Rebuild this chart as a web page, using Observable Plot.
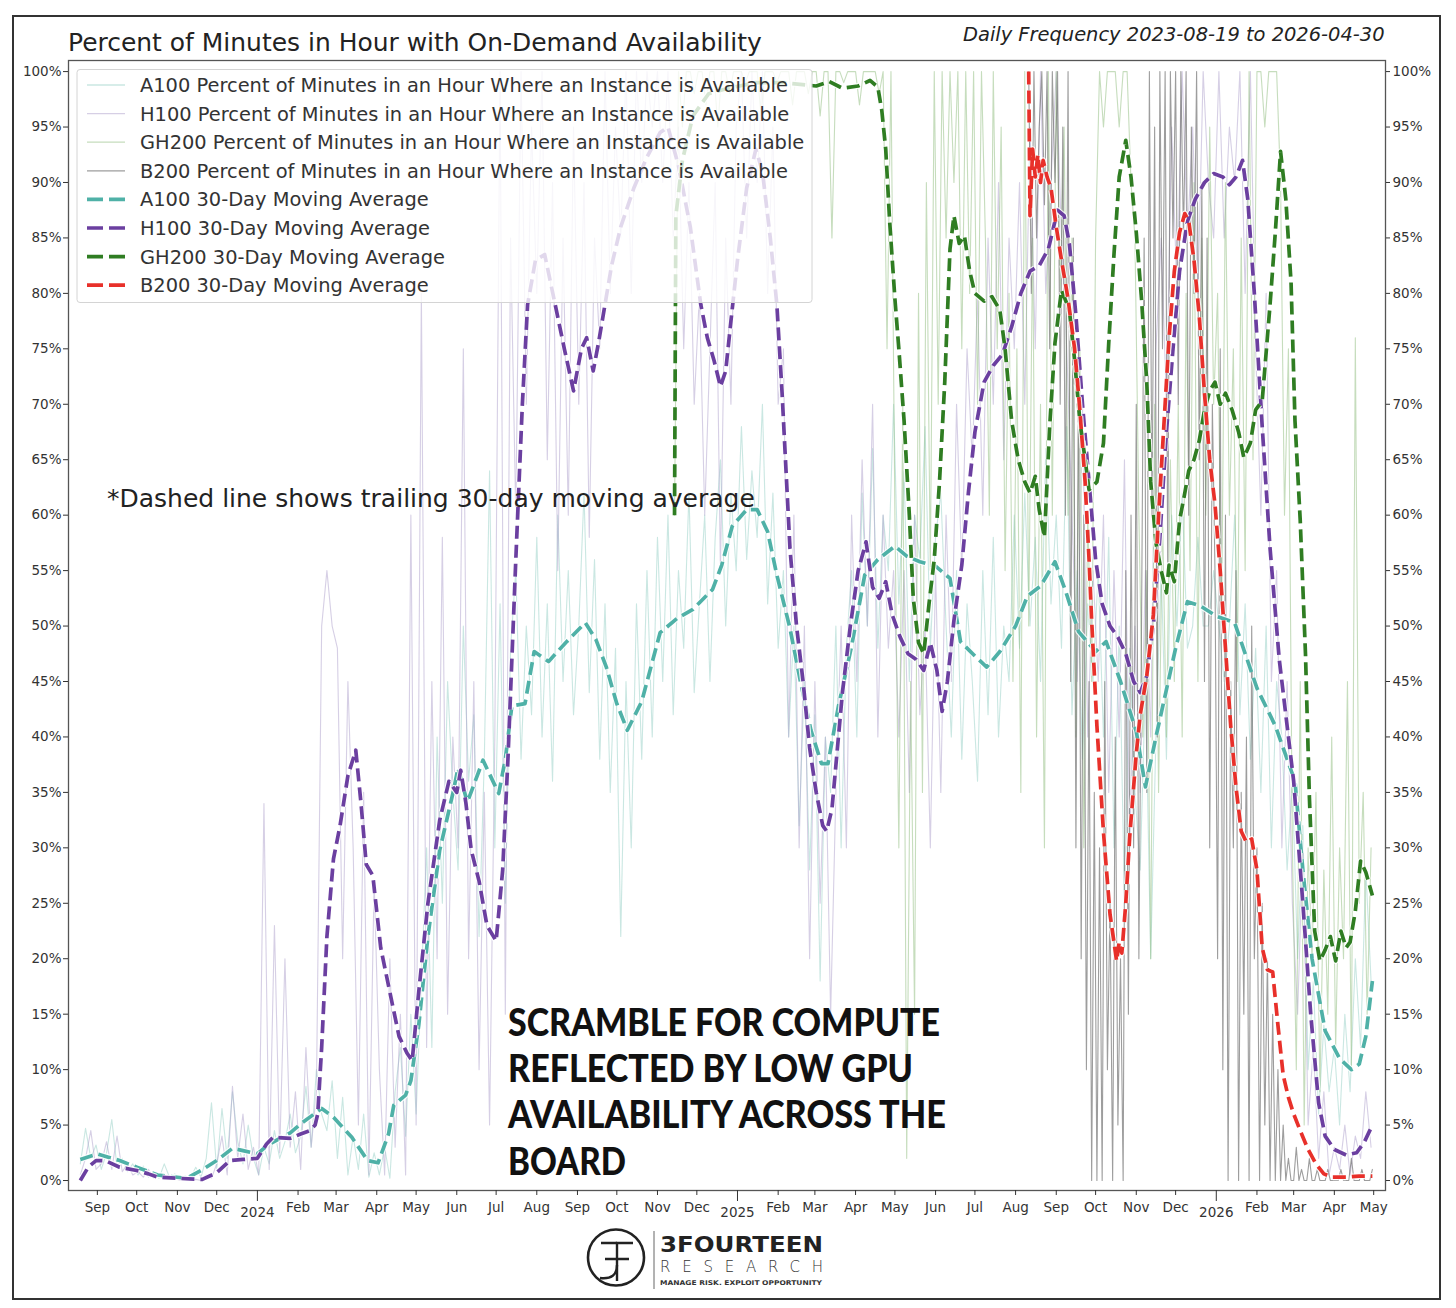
<!DOCTYPE html>
<html><head><meta charset="utf-8">
<script src="https://cdn.jsdelivr.net/npm/d3@7"></script>
<script src="https://cdn.jsdelivr.net/npm/@observablehq/plot@0.6"></script>
<style>
body{margin:0;background:#fff;}
#wrap{position:relative;width:1456px;height:1308px;font-family:"DejaVu Sans",sans-serif;overflow:hidden;}
#wrap svg{position:absolute;left:0;top:0;}
</style></head><body><div id="wrap"></div>
<script>
// ---------------- data ----------------
const titleText = "Percent of Minutes in Hour with On-Demand Availability";
const subtitleText = "Daily Frequency 2023-08-19 to 2026-04-30";
const noteText = "*Dashed line shows trailing 30-day moving average";
const calloutLines = ["SCRAMBLE FOR COMPUTE","REFLECTED BY LOW GPU","AVAILABILITY ACROSS THE","BOARD"];
const legendLabels = [
  "A100 Percent of Minutes in an Hour Where an Instance is Available",
  "H100 Percent of Minutes in an Hour Where an Instance is Available",
  "GH200 Percent of Minutes in an Hour Where an Instance is Available",
  "B200 Percent of Minutes in an Hour Where an Instance is Available",
  "A100 30-Day Moving Average",
  "H100 30-Day Moving Average",
  "GH200 30-Day Moving Average",
  "B200 30-Day Moving Average"
];
const yTicks = [0,5,10,15,20,25,30,35,40,45,50,55,60,65,70,75,80,85,90,95,100];
const monthTickDates = ["2023-09-01","2023-10-01","2023-11-01","2023-12-01","2024-02-01","2024-03-01","2024-04-01","2024-05-01","2024-06-01","2024-07-01","2024-08-01","2024-09-01","2024-10-01","2024-11-01","2024-12-01","2025-02-01","2025-03-01","2025-04-01","2025-05-01","2025-06-01","2025-07-01","2025-08-01","2025-09-01","2025-10-01","2025-11-01","2025-12-01","2026-02-01","2026-03-01","2026-04-01","2026-05-01"];
const monthTickLabels = ["Sep","Oct","Nov","Dec","Feb","Mar","Apr","May","Jun","Jul","Aug","Sep","Oct","Nov","Dec","Feb","Mar","Apr","May","Jun","Jul","Aug","Sep","Oct","Nov","Dec","Feb","Mar","Apr","May"];
const yearTickDates = ["2024-01-01","2025-01-01","2026-01-01"];
const yearTickLabels = ["2024","2025","2026"];

// raw daily series, sampled (start date, spacing in days, values in %)
const a100RawStart = "2023-08-19", a100RawStep = 4;
const a100Raw = [
 1.5,4.7,2.0,3.2,
 1.0,2.5,5.5,1.2,2.0,0.8,1.5,
 0.5,1.3,0.3,0.8,0.2,1.5,0.3,0.6,
 0.1,0.4,0.2,1.2,0.3,2.0,7.0,
 1.0,6.5,2.0,8.0,3.5,1.5,5.0,2.0,
 0.5,3.0,1.5,4.5,2.0,3.5,6.0,2.5,
 4.0,8.5,3.0,10.0,6.0,4.5,9.0,
 2.0,7.5,0.5,4.0,1.0,6.0,0.3,2.5,
 0.5,3.0,0.2,8.0,12.0,4.0,15.0,
 6.0,18.0,30.0,12.0,40.0,25.0,45.0,35.0,
 28.0,50.0,36.0,42.0,22.0,38.0,64.0,30.0,
 52.0,25.0,48.0,55.0,38.0,50.0,42.0,
 58.0,40.0,52.0,36.0,60.0,45.0,55.0,42.0,
 50.0,62.0,44.0,56.0,38.0,52.0,35.0,48.0,
 22.0,45.0,30.0,52.0,38.0,55.0,40.0,
 58.0,45.0,60.0,42.0,55.0,48.0,62.0,44.0,
 52.0,60.0,45.0,58.0,65.0,50.0,62.0,55.0,
 68.0,56.0,64.0,58.0,70.0,52.0,62.0,48.0,
 55.0,40.0,50.0,32.0,45.0,28.0,42.0,
 18.0,40.0,35.0,50.0,30.0,48.0,55.0,40.0,
 62.0,50.0,66.0,48.0,60.0,55.0,70.0,
 52.0,64.0,45.0,60.0,56.0,68.0,48.0,58.0,
 62.0,50.0,40.0,55.0,38.0,52.0,45.0,
 36.0,55.0,42.0,58.0,40.0,50.0,45.0,60.0,
 48.0,62.0,50.0,58.0,45.0,66.0,52.0,
 60.0,48.0,68.0,42.0,55.0,38.0,52.0,45.0,
 55.0,40.0,58.0,30.0,50.0,25.0,48.0,35.0,
 28.0,45.0,20.0,40.0,55.0,38.0,60.0,
 50.0,62.0,48.0,50.0,58.0,50.0,50.0,55.0,
 50.0,45.0,50.0,60.0,42.0,52.0,38.0,48.0,
 35.0,50.0,30.0,45.0,40.0,28.0,36.0,
 20.0,32.0,10.0,18.0,6.0,14.0,8.0,12.0,
 5.0,15.0,8.0,20.0,12.0,28.0,18.0
];
const h100RawStart = "2023-08-19", h100RawStep = 4;
const h100Raw = [
 0.5,2.0,4.5,1.0,
 1.5,3.5,1.0,4.0,0.8,1.5,0.5,
 0.8,0.3,1.0,0.2,0.5,0.1,0.3,0.2,
 0.0,0.2,0.0,0.1,0.0,0.5,0.2,
 1.5,4.0,0.5,8.5,2.0,6.0,1.0,3.0,
 0.5,34.0,1.0,23.0,2.5,20.0,3.0,8.0,
 1.0,12.0,3.0,8.0,50.0,55.0,50.0,
 48.0,20.0,45.0,30.0,5.0,35.0,0.5,27.0,
 10.0,0.5,20.0,3.0,15.0,0.5,60.0,
 5.0,80.0,12.0,45.0,20.0,58.0,15.0,40.0,
 30.0,75.0,20.0,45.0,10.0,35.0,5.0,40.0,
 100.0,15.0,85.0,60.0,100.0,70.0,95.0,
 80.0,100.0,65.0,90.0,55.0,85.0,60.0,95.0,
 70.0,90.0,58.0,85.0,75.0,100.0,80.0,95.0,
 85.0,100.0,80.0,100.0,90.0,100.0,95.0,
 100.0,90.0,100.0,85.0,95.0,75.0,90.0,70.0,
 80.0,60.0,75.0,90.0,55.0,85.0,70.0,95.0,
 100.0,85.0,100.0,90.0,100.0,80.0,95.0,70.0,
 75.0,40.0,60.0,30.0,50.0,20.0,45.0,
 25.0,40.0,15.0,35.0,50.0,30.0,60.0,45.0,
 65.0,50.0,70.0,40.0,60.0,48.0,55.0,
 40.0,55.0,35.0,60.0,42.0,50.0,30.0,55.0,
 35.0,60.0,45.0,70.0,55.0,75.0,65.0,
 80.0,60.0,85.0,70.0,90.0,65.0,85.0,75.0,
 90.0,70.0,95.0,75.0,100.0,80.0,90.0,
 100.0,85.0,75.0,60.0,45.0,70.0,40.0,55.0,
 45.0,60.0,35.0,55.0,40.0,65.0,30.0,50.0,
 35.0,55.0,40.0,75.0,85.0,70.0,95.0,
 80.0,100.0,85.0,95.0,80.0,100.0,90.0,85.0,
 100.0,85.0,95.0,90.0,100.0,80.0,100.0,75.0,
 60.0,80.0,45.0,55.0,30.0,45.0,25.0,
 15.0,30.0,5.0,12.0,2.0,8.0,0.5,3.0,
 1.0,5.0,0.5,4.0,2.0,8.0,3.0
];
const gh200RawStart = "2024-11-14", gh200RawStep = 3;
const gh200Raw = [
 60,100,95,100,100,98,
 100,100,97,100,100,95,100,100,98,100,
 100,100,99,100,100,100,96,100,100,100,99,
 100,100,100,97,100,100,100,98,100,
 100,96,100,100,85,100,100,99,100,100,
 100,97,100,100,100,100,98,100,75,100,
 60,30,70,2,45,15,80,35,90,55,100,
 70,100,85,100,90,100,75,100,80,100,
 70,100,85,60,100,75,95,55,80,45,
 75,35,100,50,85,40,70,30,100,60,
 100,80,95,60,85,40,75,30,60,45,
 85,100,95,100,100,100,95,100,100,90,85,
 60,40,55,20,70,35,60,40,65,45,
 70,40,80,55,90,45,85,60,95,70,
 80,50,90,60,75,45,85,55,100,65,
 100,100,95,100,100,100,90,60,75,30,
 10,45,5,30,20,35,8,28,15,40,
 12,30,20,45,10,76,25,35,15,30
];
const b200RawStart = "2025-08-11", b200RawStep = 2;
const b200Raw = [
 100,80,100,85,95,100,88,100,75,100,90,
 100,70,95,60,100,45,85,30,75,20,60,10,45,0,35,
 0,30,0,45,10,25,0,40,5,20,0,55,15,60,30,
 70,20,50,85,35,100,60,95,40,100,75,100,55,100,85,
 100,70,100,85,100,60,95,80,100,65,90,45,85,30,70,55,
 20,75,10,60,0,45,30,55,0,35,15,40,0,50,20,
 30,0,25,5,20,0,15,0,10,0,5,0,2,0,
 0,3,0,1,0,0,2,0,0,1,0,0,0,1,0,0,
 0,0,1,0,0,0,2,0,0,0,1,0,0,0,1
];

// 30-day moving averages [date, %]
const a100Ma = [["2023-08-19",1.9],["2023-09-01",2.4],["2023-09-18",1.8],["2023-10-01",1.2],["2023-10-17",0.5],["2023-11-08",0.2],["2023-11-19",0.9],["2023-12-01",1.8],["2023-12-13",2.9],["2023-12-21",2.7],["2024-01-01",2.4],["2024-01-09",3.2],["2024-01-26",4.3],["2024-02-03",5.1],["2024-02-19",6.5],["2024-02-28",5.7],["2024-03-13",3.9],["2024-03-25",1.8],["2024-04-02",1.6],["2024-04-10",4.2],["2024-04-14",6.8],["2024-04-23",7.7],["2024-04-27",9.0],["2024-05-03",14],["2024-05-10",22],["2024-05-19",29.8],["2024-05-29",34.9],["2024-06-02",37.2],["2024-06-09",34.1],["2024-06-15",36],["2024-06-21",37.9],["2024-07-03",34.9],["2024-07-08",38],["2024-07-13",42.8],["2024-07-23",43],["2024-07-30",47.7],["2024-08-10",46.8],["2024-08-23",48.5],["2024-09-07",50.3],["2024-09-15",48.8],["2024-09-23",46.3],["2024-10-01",43],["2024-10-09",40.6],["2024-10-20",43.2],["2024-11-03",49.4],["2024-11-16",50.7],["2024-11-28",51.5],["2024-12-13",53.3],["2024-12-20",55.5],["2024-12-28",59],["2025-01-08",60.5],["2025-01-16",60.5],["2025-01-24",58.5],["2025-01-31",54.6],["2025-02-10",49.8],["2025-02-18",45],["2025-02-26",40.6],["2025-03-06",37.6],["2025-03-11",37.6],["2025-03-19",42.8],["2025-03-29",48.2],["2025-04-08",54.6],["2025-04-18",56],["2025-05-01",57.2],["2025-05-10",56.3],["2025-05-20",55.8],["2025-06-01",55.4],["2025-06-12",54.3],["2025-06-20",48.6],["2025-07-01",47.3],["2025-07-10",46.3],["2025-07-20",47.7],["2025-08-01",50],["2025-08-10",52.7],["2025-08-20",53.6],["2025-08-31",55.8],["2025-09-08",53.2],["2025-09-18",49.5],["2025-10-01",47.7],["2025-10-09",48.6],["2025-10-20",45],["2025-11-01",40.5],["2025-11-08",35.5],["2025-11-16",40],["2025-12-01",48],["2025-12-10",52.2],["2025-12-20",51.8],["2026-01-01",50.9],["2026-01-15",50.3],["2026-02-01",44.4],["2026-02-15",41],["2026-03-02",36],["2026-03-08",28],["2026-03-15",20],["2026-03-25",13.5],["2026-04-05",11],["2026-04-14",10],["2026-04-20",10.5],["2026-04-25",13],["2026-04-30",18]];
const h100Ma = [["2023-08-19",0],["2023-08-25",1.2],["2023-08-31",1.8],["2023-09-07",1.8],["2023-09-18",1.2],["2023-10-01",0.9],["2023-10-10",0.6],["2023-10-17",0.3],["2023-11-01",0.2],["2023-11-20",0.1],["2023-12-01",0.7],["2023-12-11",1.8],["2023-12-21",1.9],["2024-01-01",2.0],["2024-01-08",3.3],["2024-01-13",3.9],["2024-01-26",3.8],["2024-02-03",4.2],["2024-02-10",4.5],["2024-02-14",5.0],["2024-02-16",6.0],["2024-02-19",12],["2024-02-23",22],["2024-02-28",29],["2024-03-04",32],["2024-03-10",36.5],["2024-03-16",38.8],["2024-03-20",34],["2024-03-24",28.5],["2024-03-29",27.5],["2024-04-04",21],["2024-04-12",16.4],["2024-04-18",13],["2024-04-24",11.5],["2024-04-28",10.8],["2024-05-03",17],["2024-05-10",25],["2024-05-19",32.5],["2024-05-26",36],["2024-06-01",35],["2024-06-04",37],["2024-06-08",34],["2024-06-12",29.8],["2024-06-18",27],["2024-06-24",23],["2024-07-01",21.6],["2024-07-06",28],["2024-07-10",38],["2024-07-16",56],["2024-07-21",70],["2024-07-25",79],["2024-07-31",83],["2024-08-07",83.5],["2024-08-15",79],["2024-08-22",75],["2024-08-29",71.2],["2024-09-04",75],["2024-09-08",76],["2024-09-13",73],["2024-09-17",75.5],["2024-09-22",79],["2024-09-27",82.5],["2024-10-04",86],["2024-10-14",89.5],["2024-10-24",92.3],["2024-11-03",94.5],["2024-11-09",95],["2024-11-17",91.5],["2024-11-26",86],["2024-12-04",79],["2024-12-09",76],["2024-12-14",74],["2024-12-19",71.6],["2024-12-23",73],["2024-12-27",77.5],["2025-01-01",83],["2025-01-08",89.5],["2025-01-15",93],["2025-01-20",91],["2025-01-26",85],["2025-01-31",79],["2025-02-04",71],["2025-02-10",57],["2025-02-15",50],["2025-02-20",45],["2025-02-25",39],["2025-03-02",35],["2025-03-07",32],["2025-03-10",31.5],["2025-03-14",33.5],["2025-03-22",44],["2025-03-28",50],["2025-04-03",55],["2025-04-09",57.6],["2025-04-14",53.5],["2025-04-19",52.5],["2025-04-24",54],["2025-04-29",51],["2025-05-05",49],["2025-05-11",47.5],["2025-05-17",47],["2025-05-23",46],["2025-05-28",48.5],["2025-06-02",46],["2025-06-06",42.3],["2025-06-10",45],["2025-06-15",50.5],["2025-06-21",55.5],["2025-06-26",62],["2025-07-01",67.5],["2025-07-08",72],["2025-07-15",73.5],["2025-07-22",74.5],["2025-07-29",77],["2025-08-05",80],["2025-08-12",82],["2025-08-19",82.5],["2025-08-26",84],["2025-09-02",87.5],["2025-09-07",87],["2025-09-11",84.5],["2025-09-16",78],["2025-09-21",70],["2025-09-26",63],["2025-10-01",56],["2025-10-06",52],["2025-10-12",50],["2025-10-18",49],["2025-10-24",47.5],["2025-10-30",45],["2025-11-04",44],["2025-11-09",45.5],["2025-11-14",50],["2025-11-19",58],["2025-11-24",67.5],["2025-11-29",75],["2025-12-04",82],["2025-12-10",86.5],["2025-12-16",88.5],["2025-12-23",90],["2025-12-30",90.8],["2026-01-06",90.5],["2026-01-11",89.8],["2026-01-16",90.5],["2026-01-21",92],["2026-01-25",88.5],["2026-01-30",80],["2026-02-05",68],["2026-02-11",57],["2026-02-18",47],["2026-02-24",41],["2026-03-01",36],["2026-03-08",25],["2026-03-14",15],["2026-03-20",7],["2026-03-25",4],["2026-04-01",2.8],["2026-04-10",2.3],["2026-04-18",2.5],["2026-04-24",3.5],["2026-04-30",5]];
const gh200Ma = [["2024-11-14",60],["2024-11-15",87],["2024-11-20",92],["2024-11-28",96],["2024-12-10",98],["2024-12-25",98.5],["2025-01-15",99],["2025-02-05",99],["2025-03-02",98.7],["2025-03-12",99.1],["2025-03-22",98.5],["2025-04-03",98.7],["2025-04-12",99.2],["2025-04-18",98.6],["2025-04-21",96.5],["2025-04-24",93],["2025-04-27",86.5],["2025-05-01",79.5],["2025-05-04",75],["2025-05-08",68.5],["2025-05-12",60],["2025-05-15",52.5],["2025-05-19",48.5],["2025-05-23",47.5],["2025-05-27",52],["2025-05-31",56],["2025-06-04",63],["2025-06-08",72],["2025-06-12",84],["2025-06-15",87],["2025-06-19",84.5],["2025-06-23",85.2],["2025-06-27",82],["2025-07-01",80],["2025-07-08",79.3],["2025-07-14",79.7],["2025-07-20",78.5],["2025-07-24",75],["2025-07-29",68.5],["2025-08-03",65],["2025-08-08",63],["2025-08-12",62],["2025-08-16",63.5],["2025-08-19",60.5],["2025-08-23",58],["2025-08-27",68],["2025-08-31",75.5],["2025-09-05",80.3],["2025-09-11",78.5],["2025-09-15",74],["2025-09-19",68.5],["2025-09-23",65],["2025-09-26",62.3],["2025-10-02",63],["2025-10-07",66.5],["2025-10-11",75.5],["2025-10-15",83.5],["2025-10-19",90.5],["2025-10-24",93.8],["2025-10-28",90.5],["2025-11-01",85.5],["2025-11-05",79.5],["2025-11-09",72],["2025-11-12",63],["2025-11-16",57.5],["2025-11-20",55],["2025-11-24",53],["2025-11-26",55.5],["2025-11-30",54],["2025-12-04",59.5],["2025-12-08",62],["2025-12-11",64],["2025-12-15",65],["2025-12-19",66.7],["2025-12-23",69.5],["2025-12-27",71.2],["2025-12-31",72],["2026-01-04",70],["2026-01-08",71],["2026-01-13",69.5],["2026-01-18",67.5],["2026-01-22",65.2],["2026-01-27",66.5],["2026-01-31",69.5],["2026-02-05",70.3],["2026-02-11",79],["2026-02-15",85.5],["2026-02-19",92.8],["2026-02-23",88.5],["2026-02-27",81],["2026-03-02",68.5],["2026-03-06",59.5],["2026-03-10",47.5],["2026-03-13",34.5],["2026-03-17",22.5],["2026-03-21",19.8],["2026-03-25",20.8],["2026-03-29",22],["2026-04-02",19.8],["2026-04-06",22.5],["2026-04-10",21],["2026-04-13",21.5],["2026-04-17",24.3],["2026-04-21",28.8],["2026-04-25",27.8],["2026-04-30",25.7]];
const b200Ma = [["2025-08-11",100],["2025-08-12",87],["2025-08-14",93],["2025-08-16",90.5],["2025-08-18",92.5],["2025-08-20",90],["2025-08-22",92],["2025-08-25",90.5],["2025-08-28",89.5],["2025-09-01",86],["2025-09-05",83],["2025-09-10",79.5],["2025-09-15",75],["2025-09-19",69.5],["2025-09-23",63],["2025-09-26",56],["2025-09-28",50.5],["2025-10-02",41],["2025-10-07",31.4],["2025-10-12",24],["2025-10-15",21.5],["2025-10-17",19.8],["2025-10-19",21.5],["2025-10-21",20.5],["2025-10-24",25],["2025-10-27",31],["2025-11-01",38.5],["2025-11-04",42],["2025-11-09",45.5],["2025-11-14",51],["2025-11-18",60],["2025-11-22",68],["2025-11-26",76],["2025-11-30",82],["2025-12-04",85.5],["2025-12-08",87.2],["2025-12-11",86.5],["2025-12-15",83],["2025-12-19",78],["2025-12-23",71],["2025-12-27",65],["2025-12-31",61],["2026-01-04",55],["2026-01-08",48],["2026-01-12",41],["2026-01-16",35.5],["2026-01-20",31.5],["2026-01-24",30.5],["2026-01-28",30.8],["2026-02-01",28],["2026-02-05",21],["2026-02-09",19],["2026-02-13",18.8],["2026-02-17",14],["2026-02-21",9.5],["2026-02-25",7.5],["2026-03-01",6],["2026-03-06",4.5],["2026-03-12",2.8],["2026-03-18",1.5],["2026-03-24",0.6],["2026-03-30",0.3],["2026-04-10",0.3],["2026-04-20",0.4],["2026-04-30",0.4]];

// ---------------- styles ----------------
const rawColors = ["#9fd3cb","#ad9fcc","#8dbb7b","#6e6e6e"];
const rawOpacity = [0.55,0.5,0.5,0.68];
const maColors = ["#4fb1a7","#6b3fa0","#2f7d22","#e8302a"];
const dash = "13,6";

// ---------------- build ----------------
const DAY = 864e5;
const sampled = (start, step, vals) => { const t0 = Date.parse(start); return vals.map((v,i)=>({date:new Date(t0 + i*step*DAY), v})); };
const dated = arr => arr.map(([d,v]) => ({date:new Date(d), v}));
const raws = [sampled(a100RawStart,a100RawStep,a100Raw), sampled(h100RawStart,h100RawStep,h100Raw), sampled(gh200RawStart,gh200RawStep,gh200Raw), sampled(b200RawStart,b200RawStep,b200Raw)];
const mas = [dated(a100Ma), dated(h100Ma), dated(gh200Ma), dated(b200Ma)];

const monthMap = new Map(monthTickDates.map((d,i)=>[+new Date(d), monthTickLabels[i]]));
const yearMap = new Map(yearTickDates.map((d,i)=>[+new Date(d), yearTickLabels[i]]));

const marks = [];
raws.forEach((r,i)=> marks.push(Plot.line(r,{x:"date",y:"v",stroke:rawColors[i],strokeOpacity:rawOpacity[i],strokeWidth:1.1})));
mas.forEach((m,i)=>{
  marks.push(Plot.line(m,{x:"date",y:"v",stroke:"white",strokeOpacity:0.85,strokeWidth:6,strokeDasharray:dash,strokeLinecap:"butt"}));
  marks.push(Plot.line(m,{x:"date",y:"v",stroke:maColors[i],strokeWidth:3.7,strokeDasharray:dash,strokeLinecap:"butt"}));
});
marks.push(Plot.frame({stroke:"#555",strokeWidth:1.3}));
marks.push(Plot.axisY({anchor:"left",ticks:yTicks,tickFormat:d=>d+"%",tickSize:5,tickPadding:2,label:null}));
marks.push(Plot.axisY({anchor:"right",ticks:yTicks,tickFormat:d=>d+"%",tickSize:4,tickPadding:3,label:null}));
marks.push(Plot.axisX({ticks:monthTickDates.map(d=>new Date(d)),tickFormat:d=>monthMap.get(+d),tickSize:5,tickPadding:7,label:null}));
marks.push(Plot.axisX({ticks:yearTickDates.map(d=>new Date(d)),tickFormat:d=>yearMap.get(+d),tickSize:11,tickPadding:6,label:null}));

const chart = Plot.plot({
  width:1456, height:1308,
  marginLeft:68, marginRight:71, marginTop:60, marginBottom:118,
  x:{type:"utc", domain:[new Date("2023-08-10"), new Date("2026-05-10")]},
  y:{domain:[-0.9,101]},
  style:{background:"transparent", fontFamily:"DejaVu Sans", fontSize:"13.5px", color:"#333"},
  marks
});
const wrap = document.getElementById("wrap");
wrap.appendChild(chart);

// ---------------- overlay (titles, legend, notes, logo) ----------------
const ov = d3.select(wrap).append("svg").attr("width",1456).attr("height",1308).style("pointer-events","none");
ov.append("rect").attr("x",13).attr("y",16).attr("width",1427).attr("height",1283).attr("fill","none").attr("stroke","#333").attr("stroke-width",2);

function fitText(t, target){ const w = t.node().getComputedTextLength(); const fs = parseFloat(t.attr("font-size")); if (w>0) t.attr("font-size", fs*target/w); return t; }
function txt(s,x,y,fs,opt={}){ const t = ov.append("text").attr("x",x).attr("y",y).attr("font-size",fs).attr("font-family",opt.family||"DejaVu Sans").attr("fill",opt.fill||"#222").text(s); if(opt.style) t.attr("font-style",opt.style); if(opt.weight) t.attr("font-weight",opt.weight); if(opt.anchor) t.attr("text-anchor",opt.anchor); return t; }

fitText(txt(titleText,68,51,23),694);
fitText(txt(subtitleText,963,41,19,{style:"italic"}),422);

// legend
const lgX=77, lgY=69.5, lgW=735, lgH=233;
ov.append("rect").attr("x",lgX).attr("y",lgY).attr("width",lgW).attr("height",lgH).attr("rx",3).attr("fill","white").attr("fill-opacity",0.8).attr("stroke","#d4d4d4").attr("stroke-width",1);
const probe = txt(legendLabels[2],140,-100,19); fitText(probe,665); const lgFont = parseFloat(probe.attr("font-size")); probe.remove();
legendLabels.forEach((lab,i)=>{
  const cy = 85 + i*28.6;
  if (i<4) {
    ov.append("line").attr("x1",87).attr("x2",125).attr("y1",cy).attr("y2",cy).attr("stroke",rawColors[i]).attr("stroke-opacity",rawOpacity[i]).attr("stroke-width",1.3);
  } else {
    ov.append("line").attr("x1",87).attr("x2",125).attr("y1",cy).attr("y2",cy).attr("stroke",maColors[i-4]).attr("stroke-width",3.7).attr("stroke-dasharray","16,6");
  }
  txt(lab,140,cy+7,lgFont,{fill:"#333"});
});

// notes
fitText(txt(noteText,107,507,24,{fill:"#222"}),648);
const calloutBase=[1036,1082,1128,1175], calloutW=[432,405,438,118];
calloutLines.forEach((s,i)=>{
  txt(s,508,calloutBase[i],38,{family:"Lato",weight:900,fill:"#111"}).attr("textLength",calloutW[i]).attr("lengthAdjust","spacingAndGlyphs");
});

// logo
const lg = ov.append("g").attr("fill","none").attr("stroke","#222");
lg.append("circle").attr("cx",616).attr("cy",1257.5).attr("r",28).attr("stroke-width",2.6);
lg.append("path").attr("d","M617,1281 V1243 H633 M617,1259 H629").attr("stroke-width",2.4);
lg.append("path").attr("d","M601,1243 H617 M605,1259 H617 M617,1265 Q617,1280 600,1278").attr("stroke-width",2.4);
ov.append("line").attr("x1",654).attr("x2",654).attr("y1",1231).attr("y2",1289).attr("stroke","#666").attr("stroke-width",1);
txt("3FOURTEEN",660,1251.5,21,{weight:"bold",fill:"#222"}).attr("textLength",163).attr("lengthAdjust","spacingAndGlyphs");
txt("RESEARCH",660,1272,15,{weight:300,fill:"#333"}).attr("textLength",163).attr("lengthAdjust","spacing");
txt("MANAGE RISK. EXPLOIT OPPORTUNITY",660,1284.5,6.5,{weight:"bold",fill:"#333"}).attr("textLength",162).attr("lengthAdjust","spacingAndGlyphs");
</script>
</body></html>
